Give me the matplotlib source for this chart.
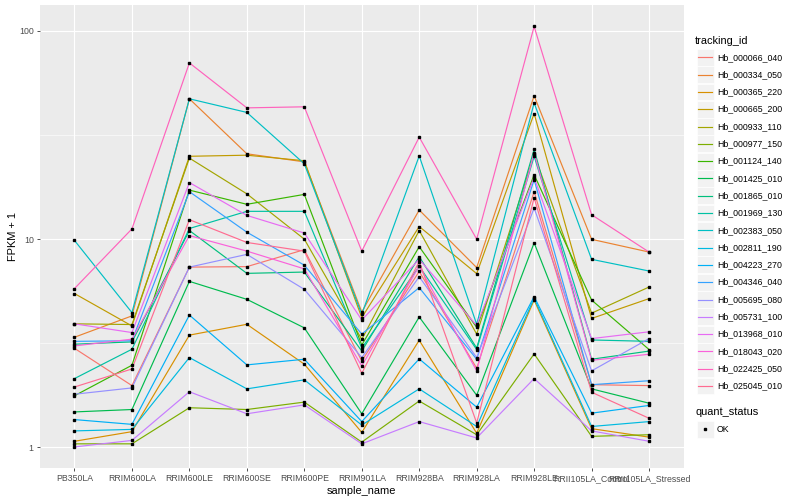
import matplotlib
matplotlib.use("Agg")
import matplotlib.pyplot as plt
from matplotlib.lines import Line2D
from matplotlib.patches import Rectangle
import numpy as np

plt.rcParams["font.family"] = ["Liberation Sans", "DejaVu Sans"]

samples = ["PB350LA", "RRIM600LA", "RRIM600LE", "RRIM600SE", "RRIM600PE", "RRIM901LA",
           "RRIM928BA", "RRIM928LA", "RRIM928LE", "RRII105LA_Control", "RRII105LA_Stressed"]

tracking_ids = ["Hb_000066_040", "Hb_000334_050", "Hb_000365_220", "Hb_000665_200",
                "Hb_000933_110", "Hb_000977_150", "Hb_001124_140", "Hb_001425_010",
                "Hb_001865_010", "Hb_001969_130", "Hb_002383_050", "Hb_002811_190",
                "Hb_004223_270", "Hb_004346_040", "Hb_005695_080", "Hb_005731_100",
                "Hb_013968_010", "Hb_018043_020", "Hb_022425_050", "Hb_025045_010"]

# ggplot hue palette, 20 levels
colors = ["#F8766D", "#EA8331", "#D89000", "#C09B00", "#A3A500", "#7CAE00", "#39B600",
          "#00BB4E", "#00BF7D", "#00C1A3", "#00BFC4", "#00BAE0", "#00B0F6", "#35A2FF",
          "#9590FF", "#C77CFF", "#E76BF3", "#FA62DB", "#FF62BC", "#FF6C91"]

# FPKM + 1 per gene, one value per sample
hb_000066_040 = [2.99, 1.98, 7.34, 7.38, 8.9, 2.6, 7.0, 2.4, 16.9, 2.0, 1.98]
hb_000334_050 = [3.38, 4.28, 47.2, 25.7, 23.5, 4.47, 13.8, 7.3, 48.8, 9.98, 8.67]
hb_000365_220 = [1.07, 1.19, 3.46, 3.9, 2.51, 1.18, 3.27, 1.17, 5.1, 1.23, 1.12]
hb_000665_200 = [5.48, 3.83, 25.0, 25.3, 23.8, 4.2, 11.5, 6.83, 40.1, 4.16, 5.18]
hb_000933_110 = [3.92, 3.89, 24.5, 16.5, 10.0, 3.3, 11.0, 3.5, 25.5, 4.41, 5.89]
hb_000977_150 = [1.04, 1.04, 1.55, 1.52, 1.65, 1.06, 1.67, 1.15, 2.81, 1.13, 1.15]
hb_001124_140 = [1.77, 2.48, 17.2, 14.7, 16.4, 3.1, 9.2, 3.77, 20.4, 5.1, 2.95]
hb_001425_010 = [1.48, 1.52, 6.27, 5.14, 3.75, 1.45, 4.23, 1.78, 9.6, 1.91, 1.63]
hb_001865_010 = [3.13, 3.21, 11.0, 6.85, 6.95, 2.9, 8.24, 3.0, 27.0, 2.65, 2.9]
hb_001969_130 = [2.14, 2.96, 11.25, 13.6, 13.6, 3.0, 7.4, 2.95, 25.0, 3.28, 3.23]
hb_002383_050 = [9.86, 4.44, 47.2, 40.6, 23.0, 4.36, 25.1, 3.9, 45.1, 8.0, 7.03]
hb_002811_190 = [1.2, 1.22, 2.7, 1.91, 2.11, 1.28, 1.91, 1.26, 5.2, 1.26, 1.33]
hb_004223_270 = [1.36, 1.29, 4.32, 2.49, 2.65, 1.33, 2.66, 1.56, 5.3, 1.46, 1.59]
hb_004346_040 = [3.23, 3.25, 16.9, 10.8, 7.5, 3.5, 5.85, 2.65, 19.3, 2.0, 2.09]
hb_005695_080 = [1.8, 1.93, 7.34, 8.45, 5.74, 2.7, 6.6, 2.7, 14.1, 2.33, 3.33]
hb_005731_100 = [1.005, 1.08, 1.85, 1.45, 1.6, 1.04, 1.33, 1.11, 2.14, 1.2, 1.07]
hb_013968_010 = [3.92, 3.56, 18.7, 13.0, 10.7, 4.09, 8.0, 3.85, 19.8, 3.33, 3.59]
hb_018043_020 = [3.07, 3.31, 10.4, 8.76, 7.2, 2.46, 7.43, 2.33, 26.0, 2.62, 2.8]
hb_022425_050 = [5.79, 11.2, 70.2, 42.7, 43.2, 8.76, 30.9, 10.0, 105.0, 13.1, 8.67]
hb_025045_010 = [1.95, 2.38, 12.4, 9.64, 8.76, 2.27, 7.8, 1.31, 15.8, 1.84, 1.38]

series = [hb_000066_040, hb_000334_050, hb_000365_220, hb_000665_200, hb_000933_110,
          hb_000977_150, hb_001124_140, hb_001425_010, hb_001865_010, hb_001969_130,
          hb_002383_050, hb_002811_190, hb_004223_270, hb_004346_040, hb_005695_080,
          hb_005731_100, hb_013968_010, hb_018043_020, hb_022425_050, hb_025045_010]


def main():
    fig = plt.figure(figsize=(8, 5), dpi=100)
    ax = fig.add_axes([0.05, 0.064, 0.8044, 0.925])
    ax.set_facecolor("#EBEBEB")
    x = np.arange(len(samples))

    for values, color in zip(series, colors):
        ax.plot(x, values, color=color, lw=0.85, zorder=3)
    for values in series:
        ax.plot(x, values, "s", color="black", ms=2.0, zorder=4, lw=0)

    ax.set_yscale("log")
    ax.set_ylim(10 ** -0.099, 10 ** 2.122)
    ax.set_xlim(-0.6, len(samples) - 0.4)
    ax.set_yticks([1, 10, 100])
    ax.set_yticklabels(["1", "10", "100"])
    ax.set_yticks([10 ** 0.5, 10 ** 1.5], minor=True)
    ax.set_xticks(x)
    ax.set_xticklabels(samples)

    ax.grid(which="major", color="white", lw=0.8, zorder=0)
    ax.grid(which="minor", axis="y", color="white", lw=0.4, zorder=0)
    ax.set_axisbelow(True)
    for s in ax.spines.values():
        s.set_visible(False)
    ax.tick_params(which="major", length=2.5, width=0.6, color="#333333",
                   labelsize=6.3, labelcolor="#4D4D4D", pad=2)
    ax.tick_params(which="minor", length=0)
    ax.set_xlabel("sample_name", fontsize=7.9, labelpad=2)
    ax.set_ylabel("FPKM + 1", fontsize=7.9, labelpad=1)

    # legend: tracking_id
    W, H = 800.0, 500.0
    fig.text(695 / W, 1 - 40.7 / H, "tracking_id", fontsize=7.9, va="center", ha="left")
    for i, (name, color) in enumerate(zip(tracking_ids, colors)):
        yc = 57.3 + i * 17.3
        fig.patches.append(Rectangle((696.5 / W, 1 - (yc + 8.4) / H), 17 / W, 16.8 / H,
                                     transform=fig.transFigure, facecolor="#F2F2F2",
                                     edgecolor="white", lw=0.5))
        fig.lines.append(Line2D([698 / W, 712 / W], [1 - yc / H, 1 - yc / H],
                                transform=fig.transFigure, color=color, lw=0.85))
        fig.text(717 / W, 1 - yc / H, name, fontsize=6.3, va="center", ha="left")

    # legend: quant_status
    fig.text(695 / W, 1 - 412.3 / H, "quant_status", fontsize=7.9, va="center", ha="left")
    fig.patches.append(Rectangle((696.5 / W, 1 - (429.3 + 8.4) / H), 17 / W, 16.8 / H,
                                 transform=fig.transFigure, facecolor="#F2F2F2",
                                 edgecolor="white", lw=0.5))
    fig.lines.append(Line2D([705 / W], [1 - 429.3 / H], transform=fig.transFigure,
                            marker="s", color="black", ms=2.0, lw=0))
    fig.text(717 / W, 1 - 429.3 / H, "OK", fontsize=6.3, va="center", ha="left")

    fig.savefig("out.png", dpi=100)


if __name__ == "__main__":
    main()
